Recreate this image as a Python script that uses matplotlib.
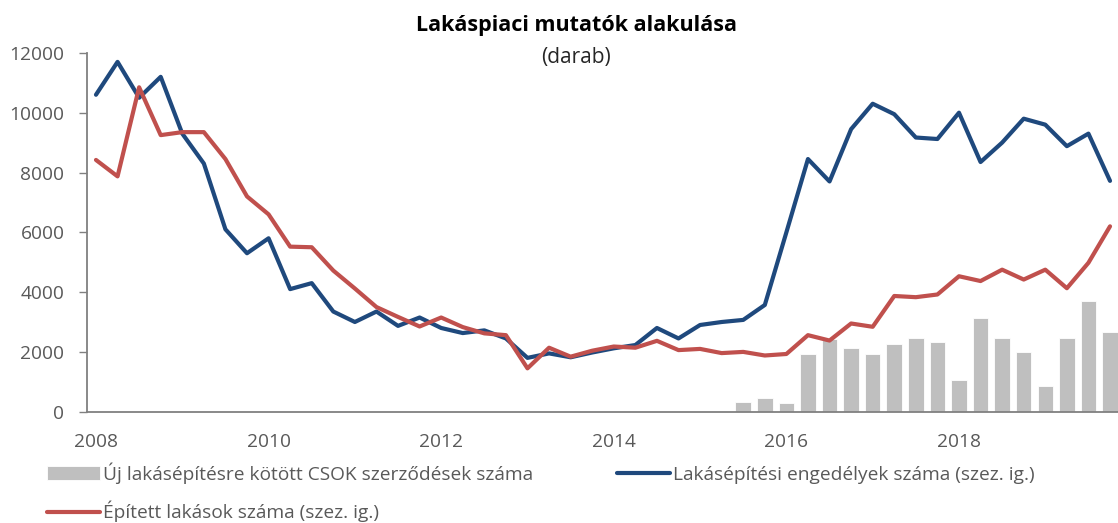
import matplotlib
matplotlib.use('Agg')
import matplotlib.pyplot as plt
import numpy as np

plt.rcParams['font.family'] = ['Open Sans', 'DejaVu Sans']

# quarterly data, 2008Q1 .. 2019Q4
years = [2008, 2010, 2012, 2014, 2016, 2018]
engedelyek = [10600, 11700, 10500, 11200, 9300, 8300, 6100, 5300, 5800, 4100, 4300, 3350,
              3000, 3350, 2870, 3150, 2800, 2630, 2720, 2450, 1800, 1950, 1820, 1980,
              2120, 2230, 2800, 2450, 2900, 3000, 3070, 3570, 6000, 8450, 7700, 9450,
              10300, 9950, 9170, 9120, 10000, 8350, 9000, 9800, 9600, 8880, 9300, 7720]
epitett = [8420, 7870, 10850, 9250, 9350, 9350, 8450, 7200, 6600, 5520, 5500, 4720,
           4120, 3500, 3170, 2850, 3150, 2830, 2620, 2560, 1450, 2140, 1840, 2040,
           2180, 2140, 2370, 2060, 2100, 1960, 2000, 1880, 1930, 2560, 2380, 2950,
           2840, 3870, 3830, 3920, 4530, 4370, 4750, 4420, 4750, 4130, 4980, 6200]
# CSOK contracts start at 2015Q3 (index 30)
csok_start = 30
csok = [330, 450, 280, 1930, 2420, 2140, 1920, 2270, 2460, 2340, 1070, 3140,
        2450, 2000, 870, 2480, 3690, 2650]

x = np.arange(len(engedelyek))
x_csok = np.arange(csok_start, csok_start + len(csok))

fig = plt.figure(figsize=(11.18, 5.23), dpi=100)
ax = fig.add_axes([86.7 / 1118, 1 - 411.7 / 523, 1 - 86.7 / 1118, (411.7 - 52.9) / 523])

grey = '#BFBFBF'
blue = '#1F497D'
red = '#C0504D'
txt = '#595959'

b = ax.bar(x_csok, csok, width=0.72, color=grey, edgecolor='white', linewidth=0.6,
           label='Új lakásépítésre kötött CSOK szerződések száma', zorder=1)
l1, = ax.plot(x, engedelyek, color=blue, lw=3.0, solid_capstyle='round',
              label='Lakásépítési engedélyek száma (szez. ig.)', zorder=2)
l2, = ax.plot(x, epitett, color=red, lw=3.0, solid_capstyle='round',
              label='Épített lakások száma (szez. ig.)', zorder=3)

ax.set_xlim(-0.43, 47.37)
ax.set_ylim(0, 12000)
ax.set_yticks(range(0, 12001, 2000))
ax.set_xticks([(y - 2008) * 4 for y in years])
ax.set_xticklabels([str(y) for y in years])

for s in ['top', 'right']:
    ax.spines[s].set_visible(False)
for s in ['left', 'bottom']:
    ax.spines[s].set_color('#808080')
    ax.spines[s].set_linewidth(1.3)
ax.tick_params(axis='y', length=6, width=1, color='#808080', pad=10, labelsize=13.8, labelcolor=txt)
ax.tick_params(axis='x', length=0, pad=15, labelsize=13.8, labelcolor=txt)

fig.text(576 / 1118, 1 - 25 / 523, 'Lakáspiaci mutatók alakulása', ha='center', va='center',
         fontsize=15.5, fontweight='bold', color='black')
fig.text(576 / 1118, 1 - 57 / 523, '(darab)', ha='center', va='center',
         fontsize=15, color='#262626')

leg = fig.legend([b, l2, l1], [b.get_label(), l2.get_label(), l1.get_label()],
                 ncol=2, loc='upper left', bbox_to_anchor=(47 / 1118, 1 - 462 / 523),
                 frameon=False, fontsize=13.8, handlelength=2.76, handletextpad=0.15,
                 columnspacing=4.4, labelspacing=0.9, borderaxespad=0, borderpad=0)
for t in leg.get_texts():
    t.set_color(txt)

fig.savefig('out.png', dpi=100)
